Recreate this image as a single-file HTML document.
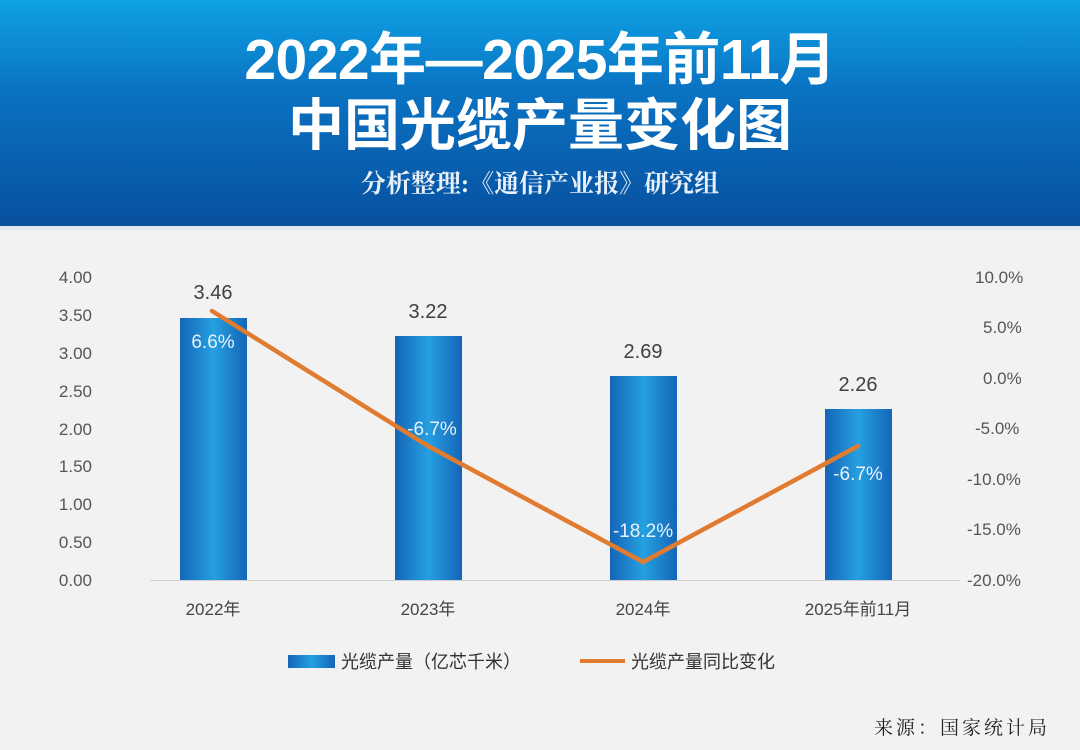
<!DOCTYPE html>
<html><head><meta charset="utf-8"><style>
body{margin:0;width:1080px;height:750px;background:#f2f2f2;overflow:hidden;font-family:"Liberation Sans","Noto Sans CJK SC",sans-serif}
.hd{position:absolute;left:0;top:0;width:1080px;height:226px;background:linear-gradient(#0ea2e4 0%,#0a72c2 40%,#0850a0 100%)}
.t{position:absolute;left:0;width:1080px;text-align:center;color:#fff;font-weight:bold}
</style></head><body>
<div class="hd"></div>
<div style="position:absolute;left:0;top:226px;width:1080px;height:4px;background:#dfe6ee"></div>
<div class="t" style="top:28px;font-size:57px;line-height:64px;letter-spacing:-0.5px">2022年—2025年前11月</div>
<div class="t" style="top:94px;font-size:56px;line-height:64px">中国光缆产量变化图</div>
<div class="t" style="top:168px;font-size:25px;line-height:34px;font-family:'Liberation Serif','Noto Serif CJK SC',serif;color:#e8f0fa">分析整理:《通信产业报》研究组</div>
<svg width="1080" height="750" style="position:absolute;left:0;top:0" font-family="Liberation Sans,Noto Sans CJK SC,sans-serif">
<defs><linearGradient id="g" x1="0" x2="1"><stop offset="0" stop-color="#1565b8"/><stop offset="0.5" stop-color="#25a0e0"/><stop offset="1" stop-color="#1565b8"/></linearGradient></defs>
<g font-size="17" fill="#555" text-anchor="end">
<text x="92" y="283">4.00</text><text x="92" y="321">3.50</text><text x="92" y="359">3.00</text><text x="92" y="397">2.50</text><text x="92" y="435">2.00</text><text x="92" y="472">1.50</text><text x="92" y="510">1.00</text><text x="92" y="548">0.50</text><text x="92" y="586">0.00</text>
</g>
<g font-size="17" fill="#555" text-anchor="start">
<text x="975" y="283">10.0%</text><text x="983" y="333">5.0%</text><text x="983" y="384">0.0%</text><text x="975" y="434">-5.0%</text><text x="967" y="485">-10.0%</text><text x="967" y="535">-15.0%</text><text x="967" y="586">-20.0%</text>
</g>
<line x1="150" y1="580.5" x2="960" y2="580.5" stroke="#d0d0d0"/>
<rect x="180" y="318" width="67" height="262" fill="url(#g)"/>
<rect x="395" y="336" width="67" height="244" fill="url(#g)"/>
<rect x="610" y="376" width="67" height="204" fill="url(#g)"/>
<rect x="825" y="409" width="67" height="171" fill="url(#g)"/>
<g font-size="20" fill="#404040" text-anchor="middle">
<text x="213" y="299">3.46</text><text x="428" y="318">3.22</text><text x="643" y="358">2.69</text><text x="858" y="391">2.26</text>
</g>
<polyline points="212,311 428,446 643,562 858,446" fill="none" stroke="#e07b30" stroke-width="4.5" stroke-linejoin="round" stroke-linecap="round"/>
<g font-size="19" fill="#e8f2fc" text-anchor="middle">
<text x="213" y="348">6.6%</text><text x="432" y="435">-6.7%</text><text x="643" y="537">-18.2%</text><text x="858" y="480">-6.7%</text>
</g>
<g font-size="17" fill="#444" text-anchor="middle">
<text x="213" y="615">2022年</text><text x="428" y="615">2023年</text><text x="643" y="615">2024年</text><text x="858" y="615">2025年前11月</text>
</g>
<rect x="288" y="655" width="47" height="13" fill="url(#g)"/>
<text x="341" y="668" font-size="18" fill="#333">光缆产量（亿芯千米）</text>
<line x1="580" y1="661" x2="625" y2="661" stroke="#e07b30" stroke-width="4"/>
<text x="631" y="668" font-size="18" fill="#333">光缆产量同比变化</text>
<text x="1050" y="734" font-size="19" fill="#222" text-anchor="end" letter-spacing="3" font-family="Liberation Serif,Noto Serif CJK SC,serif">来源：国家统计局</text>
</svg>
</body></html>
